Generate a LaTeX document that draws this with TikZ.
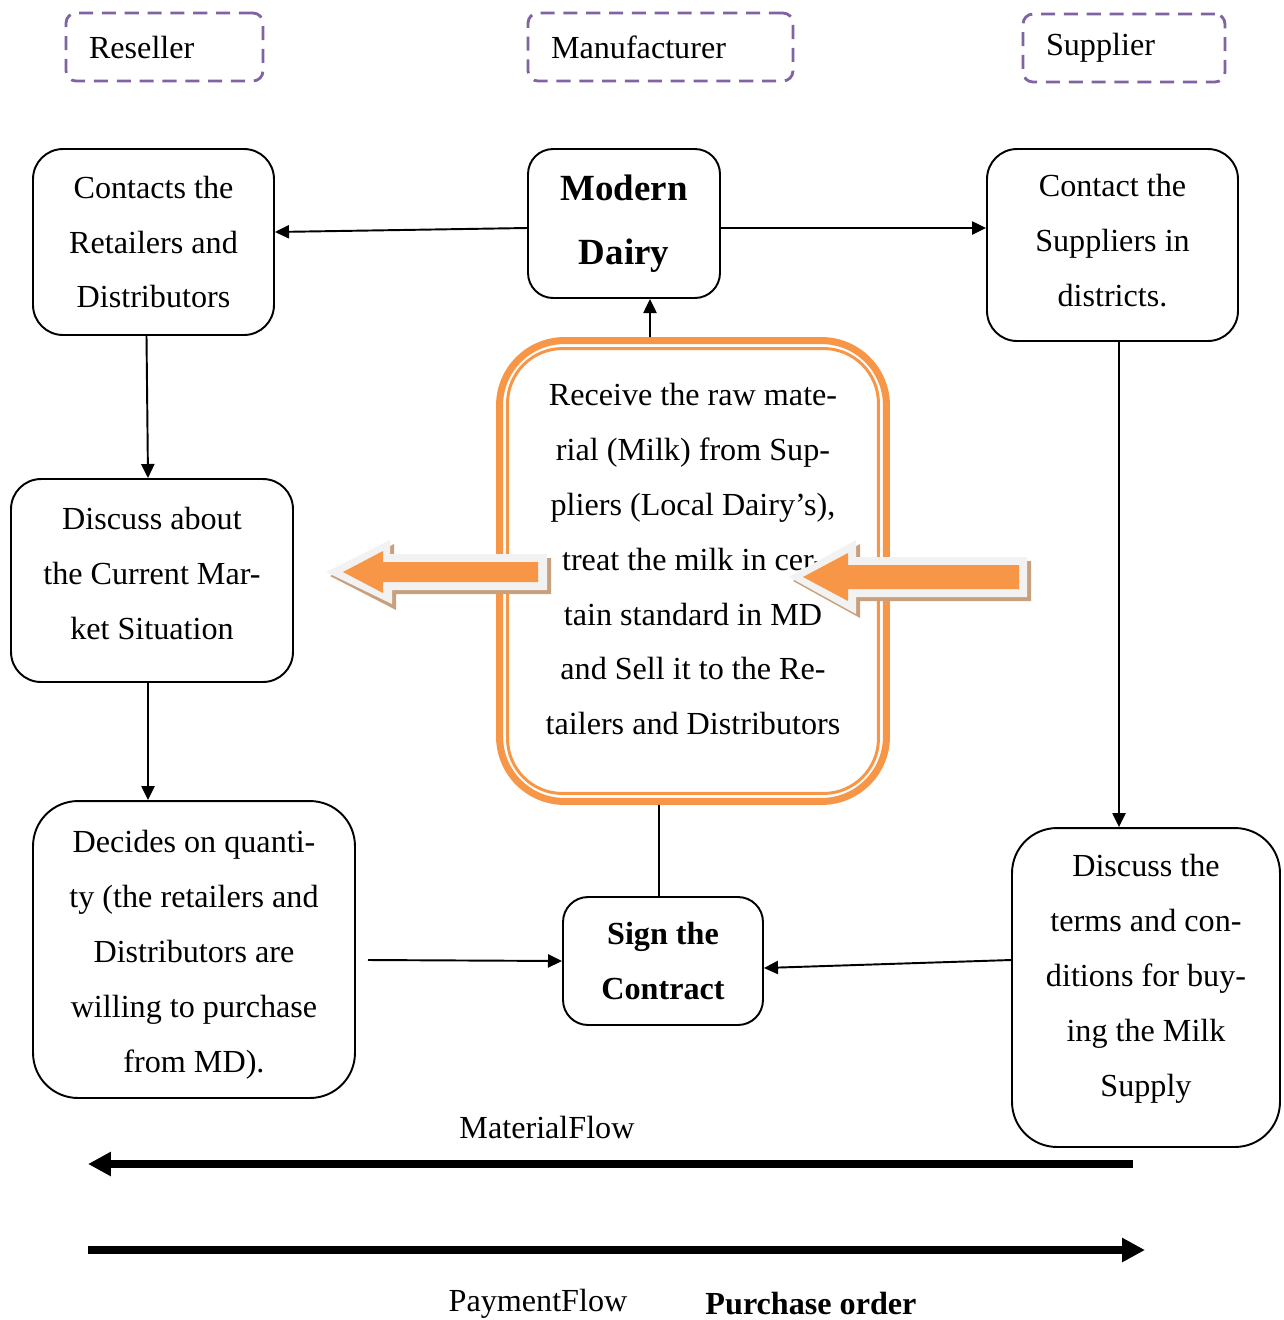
\documentclass[tikz,border=0pt]{standalone}
\usepackage{fontspec}
\setmainfont{Liberation Serif}
\usetikzlibrary{arrows.meta}

\definecolor{mdorange}{HTML}{F79646}
\definecolor{mdpurple}{HTML}{8064A2}
\definecolor{mdgrey}{HTML}{F2F2F2}
\definecolor{mdshadow}{HTML}{C9A07E}

\tikzset{
  box/.style={draw, line width=1.1pt, rounded corners=0.6cm, inner sep=0pt,
    align=center, font=\fontsize{18.3}{31.3}\selectfont},
  txt/.style={inner sep=0pt, align=center, font=\fontsize{18.3}{31.3}\selectfont},
  role/.style={draw=mdpurple, line width=1.6pt, dash pattern=on 8pt off 5pt,
    rounded corners=0.2cm, minimum height=1.36cm, inner xsep=0.46cm,
    inner ysep=0pt, align=left, font=\fontsize{18.3}{22}\selectfont},
  flow/.style={-{Triangle[length=8pt,width=7.5pt]}, line width=1.1pt},
  bigflow/.style={-{Triangle[length=13pt,width=13pt]}, line width=4.5pt},
  lbl/.style={inner sep=0pt, font=\fontsize{18.3}{22}\selectfont}
}

\begin{document}
\begin{tikzpicture}[x=0.02cm,y=-0.02cm]
\useasboundingbox (0,0) rectangle (1284,1320);

% roles
\node[role, text width=3.02cm] (reseller) at (164.5,47) {Reseller};
\node[role, text width=4.38cm] (manuf) at (660.5,47) {Manufacturer};
\node[role, text width=3.12cm] (supplier) at (1124,48) {Supplier};

% steps
\node[box, minimum width=4.82cm, minimum height=3.72cm] (contacts) at (153.5,242)
{Contacts the\\Retailers and\\Distributors};
\node[box, rounded corners=0.5cm, minimum width=3.84cm, minimum height=2.98cm,
  font=\fontsize{21}{36.4}\selectfont\bfseries] (dairy) at (624,223.5)
{Modern\\Dairy};
\node[box, minimum width=5.02cm, minimum height=3.84cm] (suppliers) at (1112.5,245) {};
\node[txt] (supptxt) at (1112.5,241) {Contact the\\Suppliers in\\districts.};

\node[box, draw=mdorange, line width=4pt, rounded corners=1.3cm,
  minimum width=7.74cm, minimum height=9.22cm] (raw) at (693,571) {};
\draw[mdorange, line width=1.7pt, rounded corners=1.1cm]
  ([shift={(11.5,11.5)}]raw.north west) rectangle ([shift={(-11.5,-11.5)}]raw.south east);
\node[txt] (rawtxt) at (693,559)
{Receive the raw mate-\\rial (Milk) from Sup-\\pliers (Local Dairy’s),\\treat the milk in cer-\\tain standard in MD\\and Sell it to the Re-\\tailers and Distributors};

\node[box, minimum width=5.64cm, minimum height=4.06cm] (discuss) at (152,580.5) {};
\node[txt] (disctxt) at (152,573) {Discuss about\\the Current Mar-\\ket Situation};
\node[box, rounded corners=0.9cm, minimum width=6.44cm, minimum height=5.94cm] (decides) at (194,949.5) {};
\node[txt] (dectxt) at (194,955)
{Decides on quanti-\\ty (the retailers and\\Distributors are\\willing to purchase\\from MD).};
\node[box, rounded corners=0.5cm, minimum width=4cm, minimum height=2.56cm,
  font=\fontsize{18.3}{31.3}\selectfont\bfseries] (sign) at (663,961)
{Sign the\\Contract};
\node[box, rounded corners=0.9cm, minimum width=5.36cm, minimum height=6.38cm] (terms) at (1146,987.5) {};
\node[txt] (termtxt) at (1146,978.5)
{Discuss the\\terms and con-\\ditions for buy-\\ing the Milk\\Supply};

% block arrows
\fill[mdshadow] (330,576) -- (394,544) -- (394,558) -- (551,558) -- (551,594)
  -- (396,594) -- (396,610) -- cycle;
\fill[mdgrey] (326,572) -- (390,540) -- (390,554) -- (547,554) -- (547,590)
  -- (392,590) -- (392,604) -- cycle;
\fill[mdorange] (343,572) -- (383,551) -- (383,562) -- (538,562) -- (538,582)
  -- (383,582) -- (383,593) -- cycle;

\fill[mdshadow] (793,581) -- (860,544) -- (860,561) -- (1031,561) -- (1031,601)
  -- (860,601) -- (860,618) -- cycle;
\fill[mdgrey] (789,577) -- (856,540) -- (856,557) -- (1027,557) -- (1027,597)
  -- (856,597) -- (856,614) -- cycle;
\fill[mdorange] (803,577) -- (848,553) -- (848,565) -- (1019,565) -- (1019,589)
  -- (848,589) -- (848,601) -- cycle;

% connectors
\draw[flow] ([yshift=-0.09cm]dairy.west) -- ([yshift=0.2cm]contacts.east);
\draw[flow] ([yshift=-0.09cm]dairy.east) -- ([yshift=0.34cm]suppliers.west);
\draw[flow] ([xshift=-0.86cm]raw.north) -- ([xshift=0.52cm]dairy.south);
\draw[flow] ([xshift=-0.14cm]contacts.south) -- ([xshift=-0.08cm]discuss.north);
\draw[flow] ([xshift=-0.08cm]discuss.south) -- ([xshift=-0.92cm]decides.north);
\draw[flow] ([xshift=0.13cm]suppliers.south) -- ([xshift=-0.54cm]terms.north);
\draw[line width=1.1pt] ([xshift=-0.68cm]raw.south) -- ([xshift=-0.08cm]sign.north);
\coordinate (qty) at (368,960);
\draw[flow] (qty) -- (sign.west);
\draw[flow] ([yshift=0.55cm]terms.west) -- ([yshift=-0.14cm]sign.east);

% flows
\node[lbl] (matlbl) at (547,1127) {MaterialFlow};
\node[lbl] (paylbl) at (538,1304) {PaymentFlow};
\node[lbl, font=\fontsize{18.3}{22}\selectfont\bfseries] (polbl) at (811,1304) {Purchase order};
\coordinate (mfs) at (1133,1164);
\coordinate (mfe) at (88,1164);
\coordinate (pfs) at (88,1250);
\coordinate (pfe) at (1145,1250);
\draw[bigflow] (mfs) -- (mfe);
\draw[bigflow] (pfs) -- (pfe);

\end{tikzpicture}
\end{document}
